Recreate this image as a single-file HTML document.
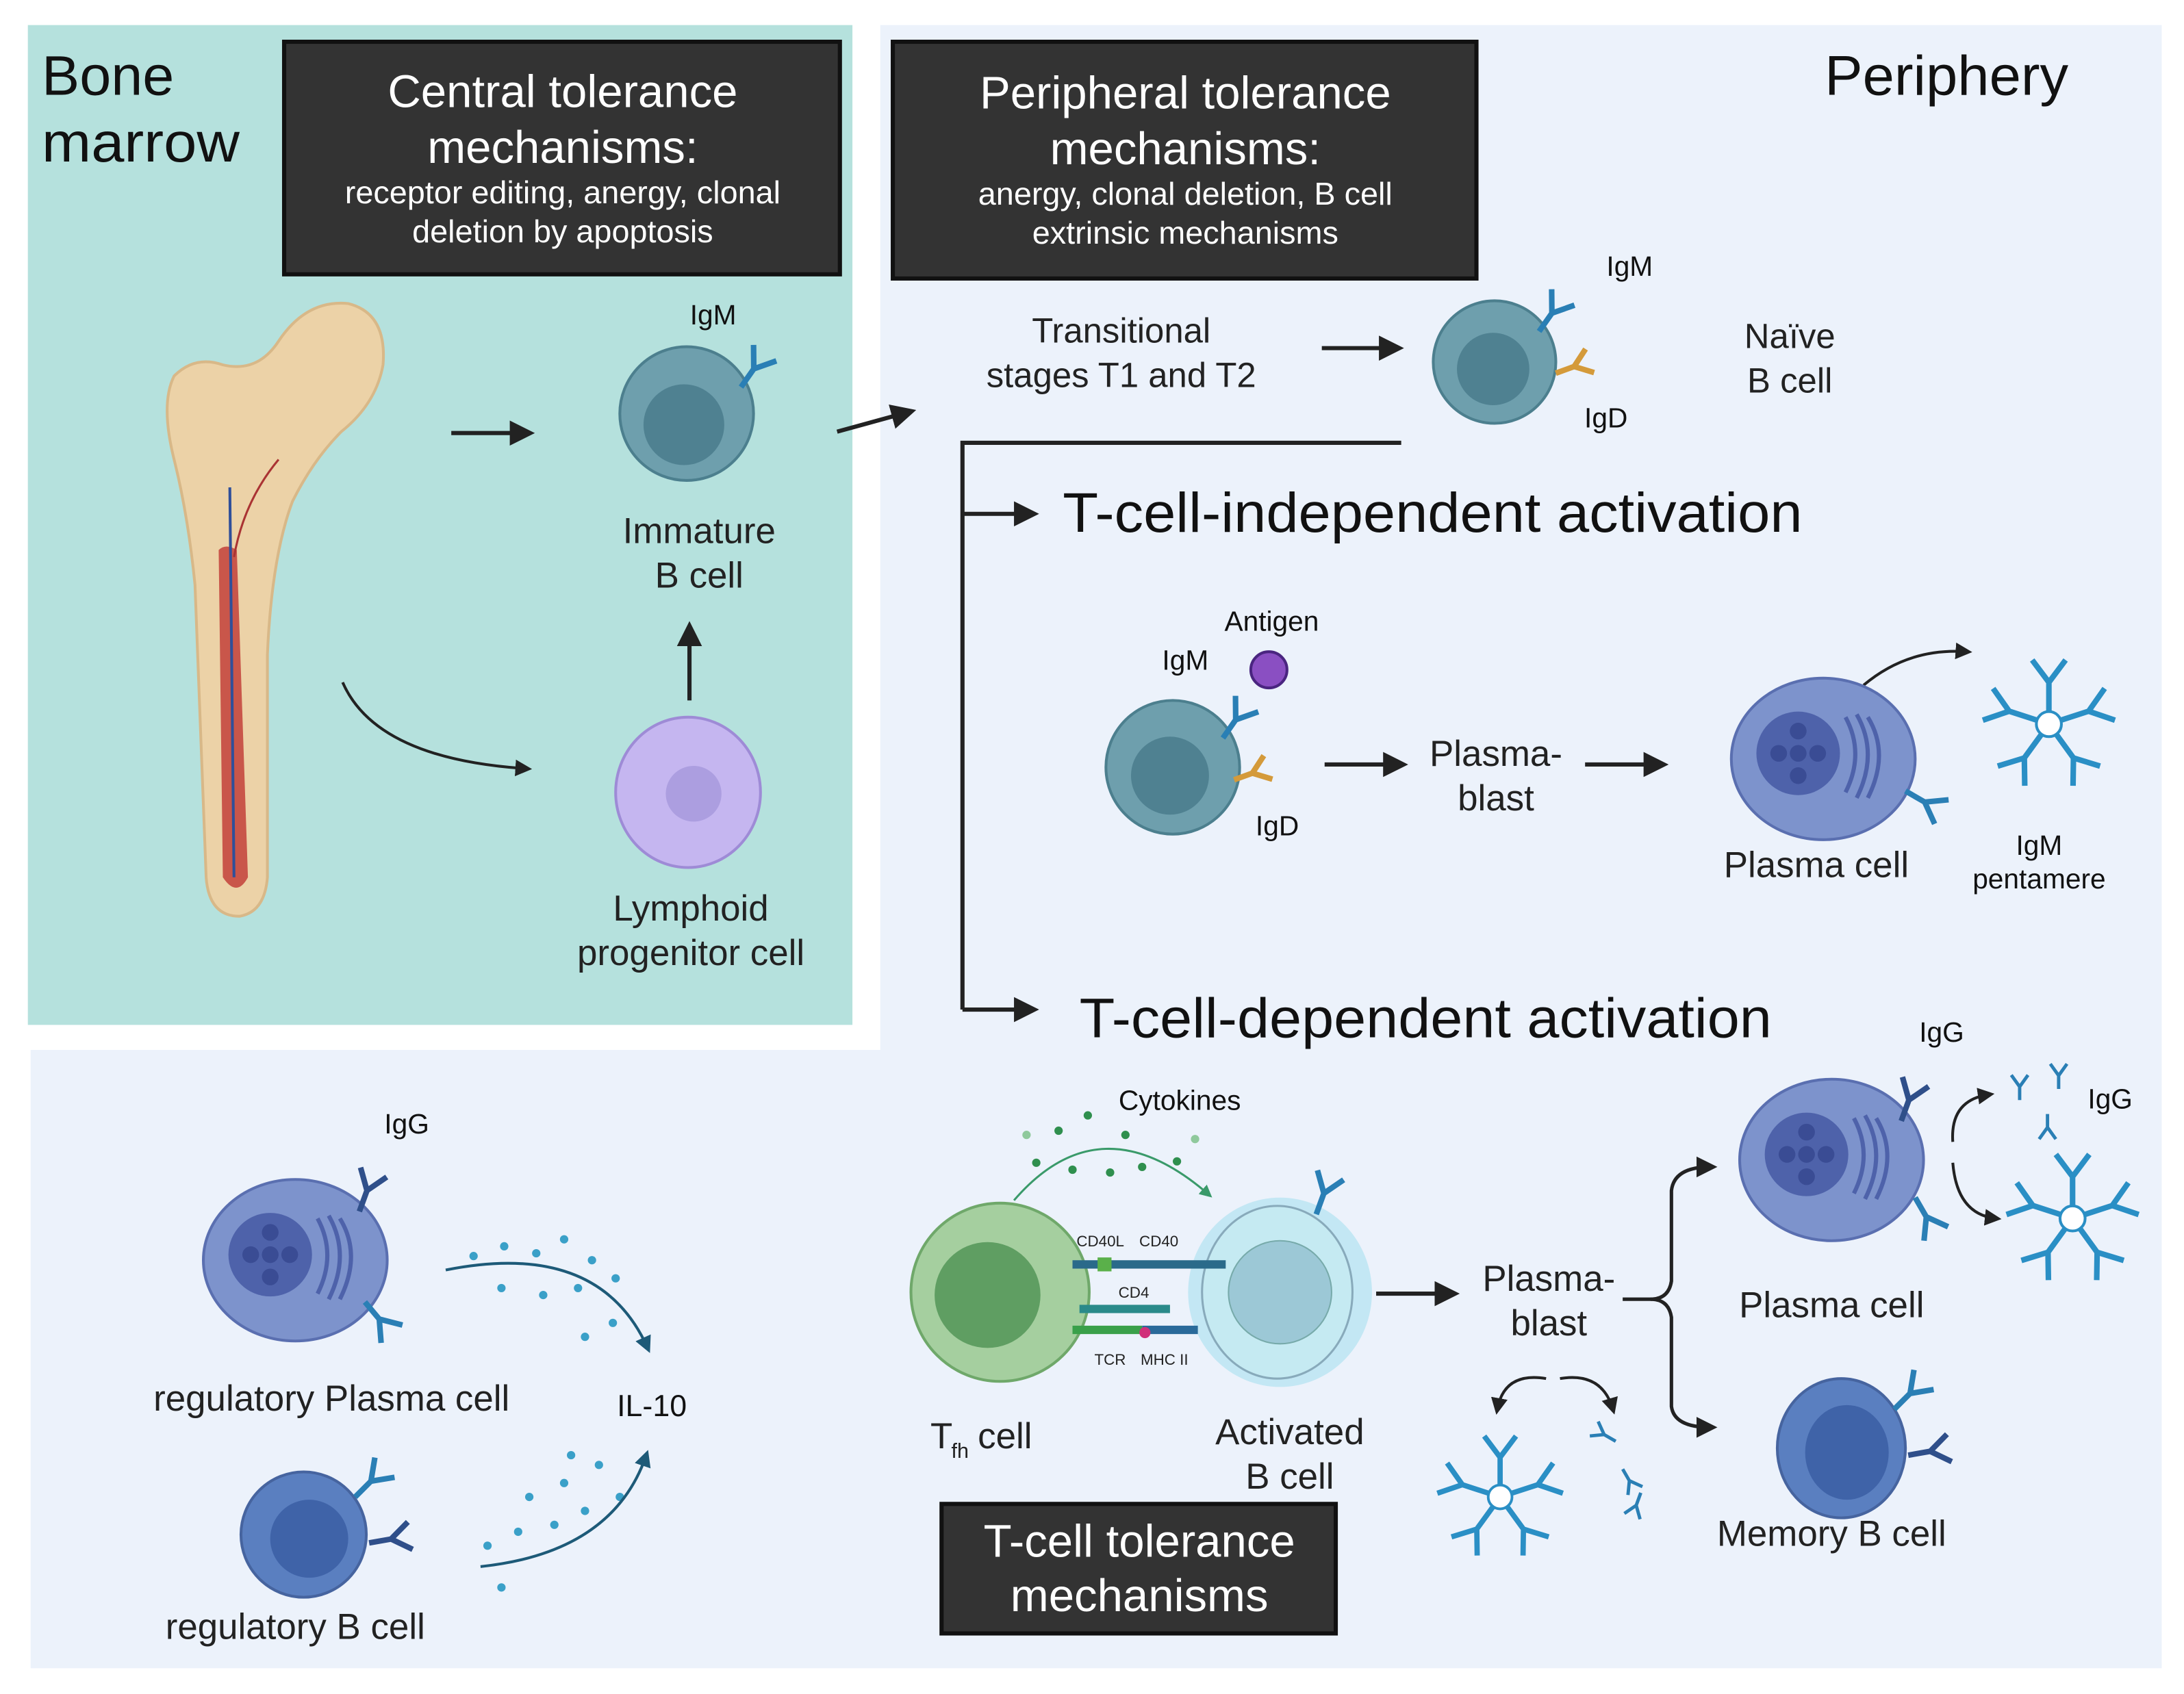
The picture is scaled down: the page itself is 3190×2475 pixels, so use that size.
<!DOCTYPE html>
<html><head><meta charset="utf-8"><style>
html,body{margin:0;padding:0;background:#fff}
svg{display:block}
text{font-family:"Liberation Sans",sans-serif}
</style></head><body>
<svg width="3190" height="2475" viewBox="0 0 1568 1216.5" preserveAspectRatio="none" xmlns="http://www.w3.org/2000/svg">
<defs>
<marker id="ah" markerWidth="6" markerHeight="6" refX="4" refY="3" orient="auto" markerUnits="strokeWidth"><path d="M0,0 L6,3 L0,6 z" fill="#222"/></marker>
<marker id="ahb" markerWidth="6" markerHeight="6" refX="4" refY="3" orient="auto" markerUnits="strokeWidth"><path d="M0,0 L6,3 L0,6 z" fill="#1d5a78"/></marker>
<marker id="ahg" markerWidth="6" markerHeight="6" refX="4" refY="3" orient="auto" markerUnits="strokeWidth"><path d="M0,0 L6,3 L0,6 z" fill="#3a9a6a"/></marker>
<g id="ab"><path d="M0,0 L0,-16 L-10,-30 M0,-16 L10,-30" stroke="#2a7fb5" stroke-width="4" fill="none"/></g>
<g id="abd"><path d="M0,0 L0,-16 L-10,-30 M0,-16 L10,-30" stroke="#2f4f8a" stroke-width="4" fill="none"/></g>
<g id="abg"><path d="M0,0 L0,-14 L-9,-26 M0,-14 L9,-26" stroke="#d49a3a" stroke-width="4" fill="none"/></g>
<g id="pent">
<circle r="9" fill="#fff" stroke="#2a8fc5" stroke-width="2"/>
<g stroke="#2a8fc5" stroke-width="4" fill="none">
<path d="M0,-9 L0,-30 L-12,-46 M0,-30 L12,-46"/>
<path d="M0,-9 L0,-30 L-12,-46 M0,-30 L12,-46" transform="rotate(72)"/>
<path d="M0,-9 L0,-30 L-12,-46 M0,-30 L12,-46" transform="rotate(144)"/>
<path d="M0,-9 L0,-30 L-12,-46 M0,-30 L12,-46" transform="rotate(216)"/>
<path d="M0,-9 L0,-30 L-12,-46 M0,-30 L12,-46" transform="rotate(288)"/>
</g></g>
<g id="plasma">
<ellipse cx="0" cy="0" rx="66" ry="58" fill="#7d93cc" stroke="#5a6fb0" stroke-width="2"/>
<circle cx="-18" cy="-4" r="30" fill="#4e62aa"/>
<g fill="#3a4c94"><circle cx="-18" cy="-4" r="6"/><circle cx="-18" cy="-20" r="6"/><circle cx="-18" cy="12" r="6"/><circle cx="-32" cy="-4" r="6"/><circle cx="-4" cy="-4" r="6"/></g>
<path d="M16,-30 Q30,-4 16,24 M24,-32 Q40,-4 24,28 M32,-30 Q48,-4 32,28" stroke="#4e62aa" stroke-width="3" fill="none"/>
</g>
</defs>

<rect x="0" y="0" width="1568" height="1217" fill="#fff"/>
<path d="M632,18 L1552,18 L1552,1198 L22,1198 L22,754 L632,754 Z" fill="#ecf2fb"/>
<rect x="20" y="18" width="592" height="718" fill="#b5e1dd"/>

<rect x="204" y="30" width="399" height="167" fill="#333" stroke="#111" stroke-width="3"/>
<text x="404" y="77" font-size="33" fill="#fff" text-anchor="middle">Central tolerance</text>
<text x="404" y="117" font-size="33" fill="#fff" text-anchor="middle">mechanisms:</text>
<text x="404" y="146" font-size="23" fill="#fff" text-anchor="middle">receptor editing, anergy, clonal</text>
<text x="404" y="174" font-size="23" fill="#fff" text-anchor="middle">deletion by apoptosis</text>

<rect x="641" y="30" width="419" height="170" fill="#333" stroke="#111" stroke-width="3"/>
<text x="851" y="78" font-size="33" fill="#fff" text-anchor="middle">Peripheral tolerance</text>
<text x="851" y="118" font-size="33" fill="#fff" text-anchor="middle">mechanisms:</text>
<text x="851" y="147" font-size="23" fill="#fff" text-anchor="middle">anergy, clonal deletion, B cell</text>
<text x="851" y="175" font-size="23" fill="#fff" text-anchor="middle">extrinsic mechanisms</text>

<rect x="676" y="1080" width="283" height="93" fill="#333" stroke="#111" stroke-width="3"/>
<text x="818" y="1118" font-size="33" fill="#fff" text-anchor="middle">T-cell tolerance</text>
<text x="818" y="1157" font-size="33" fill="#fff" text-anchor="middle">mechanisms</text>

<text x="30" y="68" font-size="40" fill="#111" textLength="95" lengthAdjust="spacingAndGlyphs">Bone</text>
<text x="30" y="116" font-size="40" fill="#111" textLength="142" lengthAdjust="spacingAndGlyphs">marrow</text>
<text x="1310" y="68" font-size="40" fill="#111" textLength="175" lengthAdjust="spacingAndGlyphs">Periphery</text>

<path d="M125,270 Q140,255 160,262 Q185,268 200,245 Q220,215 250,218 Q278,225 275,262 Q270,290 245,310 Q225,330 210,360 Q195,400 192,470 L192,630 Q190,655 172,658 Q150,658 148,630 L140,420 Q135,370 125,330 Q115,290 125,270 Z" fill="#ecd2a7" stroke="#d8b888" stroke-width="2"/>
<path d="M157,395 Q162,390 170,395 L178,630 Q170,645 160,630 Z" fill="#c9564a"/>
<path d="M165,350 L168,630" stroke="#2f4f9a" stroke-width="2" fill="none"/>
<path d="M168,400 Q175,360 200,330" stroke="#a33" stroke-width="1.5" fill="none"/>

<circle cx="493" cy="297" r="48" fill="#6e9fad" stroke="#4c7f8e" stroke-width="2"/>
<circle cx="491" cy="305" r="29" fill="#4f8191"/>
<use href="#ab" transform="translate(532,278) rotate(35)"/>
<text x="512" y="233" font-size="20" fill="#111" text-anchor="middle">IgM</text>
<text x="502" y="390" font-size="26" fill="#222" text-anchor="middle">Immature</text>
<text x="502" y="422" font-size="26" fill="#222" text-anchor="middle">B cell</text>

<ellipse cx="494" cy="569" rx="52" ry="54" fill="#c5b6f0" stroke="#9e8bd6" stroke-width="2"/>
<circle cx="498" cy="570" r="20" fill="#ac9ee0"/>
<text x="496" y="661" font-size="26" fill="#222" text-anchor="middle">Lymphoid</text>
<text x="496" y="693" font-size="26" fill="#222" text-anchor="middle">progenitor cell</text>

<g stroke="#222" stroke-width="3" fill="none">
<path d="M324,311 L378,311" marker-end="url(#ah)"/>
<path d="M495,503 L495,452" marker-end="url(#ah)"/>
<path d="M246,490 Q270,545 378,552" marker-end="url(#ah)" stroke-width="2"/>
<path d="M601,310 L652,296" marker-end="url(#ah)"/>
<path d="M949,250 L1002,250" marker-end="url(#ah)"/>
<path d="M1006,318 L691,318 L691,725"/>
<path d="M691,369 L740,369" marker-end="url(#ah)"/>
<path d="M691,725 L740,725" marker-end="url(#ah)"/>
<path d="M951,549 L1005,549" marker-end="url(#ah)"/>
<path d="M1138,549 L1192,549" marker-end="url(#ah)"/>
<path d="M1338,492 Q1370,465 1412,468" marker-end="url(#ah)" stroke-width="2"/>
<path d="M988,929 L1042,929" marker-end="url(#ah)"/>
<path d="M1165,933 L1185,933 Q1198,933 1200,920 L1200,855 Q1202,838 1228,838" marker-end="url(#ah)" stroke-width="2.5"/>
<path d="M1185,933 Q1198,933 1200,946 L1200,1010 Q1202,1025 1228,1025" marker-end="url(#ah)" stroke-width="2.5"/>
<path d="M1402,820 Q1400,790 1428,786" marker-end="url(#ah)" stroke-width="2"/>
<path d="M1402,835 Q1405,872 1433,875" marker-end="url(#ah)" stroke-width="2"/>
<path d="M1110,990 Q1080,985 1075,1012" marker-end="url(#ah)" stroke-width="2"/>
<path d="M1120,990 Q1150,985 1158,1012" marker-end="url(#ah)" stroke-width="2"/>
</g>

<text x="805" y="246" font-size="25" fill="#222" text-anchor="middle">Transitional</text>
<text x="805" y="278" font-size="25" fill="#222" text-anchor="middle">stages T1 and T2</text>

<circle cx="1073" cy="260" r="44" fill="#6e9fad" stroke="#4c7f8e" stroke-width="2"/>
<circle cx="1072" cy="265" r="26" fill="#4f8191"/>
<use href="#ab" transform="translate(1105,238) rotate(35)"/>
<use href="#abg" transform="translate(1117,268) rotate(70)"/>
<text x="1170" y="198" font-size="20" fill="#111" text-anchor="middle">IgM</text>
<text x="1153" y="307" font-size="20" fill="#111" text-anchor="middle">IgD</text>
<text x="1285" y="250" font-size="25" fill="#222" text-anchor="middle">Naïve</text>
<text x="1285" y="282" font-size="25" fill="#222" text-anchor="middle">B cell</text>

<text x="763" y="382" font-size="40" fill="#111" textLength="531" lengthAdjust="spacingAndGlyphs">T-cell-independent activation</text>
<text x="775" y="745" font-size="40" fill="#111" textLength="497" lengthAdjust="spacingAndGlyphs">T-cell-dependent activation</text>

<circle cx="842" cy="551" r="48" fill="#6e9fad" stroke="#4c7f8e" stroke-width="2"/>
<circle cx="840" cy="557" r="28" fill="#4f8191"/>
<use href="#ab" transform="translate(878,530) rotate(35)"/>
<use href="#abg" transform="translate(886,560) rotate(70)"/>
<circle cx="911" cy="481" r="13" fill="#8a4fc2" stroke="#4a2580" stroke-width="2"/>
<text x="913" y="453" font-size="20" fill="#111" text-anchor="middle">Antigen</text>
<text x="851" y="481" font-size="20" fill="#111" text-anchor="middle">IgM</text>
<text x="917" y="600" font-size="20" fill="#111" text-anchor="middle">IgD</text>
<text x="1074" y="550" font-size="26" fill="#222" text-anchor="middle">Plasma-</text>
<text x="1074" y="582" font-size="26" fill="#222" text-anchor="middle">blast</text>
<use href="#plasma" transform="translate(1309,545)"/>
<use href="#ab" transform="translate(1368,568) rotate(120)"/>
<text x="1304" y="630" font-size="26" fill="#222" text-anchor="middle">Plasma cell</text>
<use href="#pent" transform="translate(1471,520)"/>
<text x="1464" y="614" font-size="20" fill="#111" text-anchor="middle">IgM</text>
<text x="1464" y="638" font-size="20" fill="#111" text-anchor="middle">pentamere</text>

<g fill="#2f8f4e"><circle cx="781" cy="801" r="3"/><circle cx="760" cy="812" r="3"/><circle cx="808" cy="815" r="3"/><circle cx="744" cy="835" r="3"/><circle cx="770" cy="840" r="3"/><circle cx="797" cy="842" r="3"/><circle cx="820" cy="838" r="3"/><circle cx="845" cy="834" r="3"/><circle cx="858" cy="818" r="3" fill="#8fc99c"/><circle cx="737" cy="815" r="3" fill="#8fc99c"/></g>
<path d="M728,862 Q790,790 868,858" stroke="#3a9a6a" stroke-width="1.5" fill="none" marker-end="url(#ahg)"/>
<text x="847" y="797" font-size="20" fill="#111" text-anchor="middle">Cytokines</text>
<ellipse cx="919" cy="928" rx="66" ry="68" fill="#a8dff0" opacity="0.6"/>
<ellipse cx="917" cy="928" rx="54" ry="62" fill="#c5eaf2" stroke="#8ab" stroke-width="1.5"/>
<circle cx="919" cy="928" r="37" fill="#9cc8d6" stroke="#7aa" stroke-width="1"/>
<use href="#ab" transform="translate(945,872) rotate(20)"/>
<ellipse cx="718" cy="928" rx="64" ry="64" fill="#a5cf9f" stroke="#6fa86a" stroke-width="2"/>
<circle cx="709" cy="930" r="38" fill="#5f9e62"/>
<g stroke="#2a6a8a" stroke-width="6"><path d="M770,908 L880,908"/></g>
<rect x="788" y="903" width="10" height="10" fill="#5ab04a"/>
<g stroke="#2a8a8a" stroke-width="6"><path d="M775,940 L840,940"/></g>
<g stroke="#3aa04a" stroke-width="6"><path d="M770,955 L820,955"/></g>
<g stroke="#2a6a9a" stroke-width="6"><path d="M820,955 L860,955"/></g>
<circle cx="822" cy="957" r="4" fill="#d0307a"/>
<text x="790" y="895" font-size="11" fill="#222" text-anchor="middle">CD40L</text>
<text x="832" y="895" font-size="11" fill="#222" text-anchor="middle">CD40</text>
<text x="814" y="932" font-size="11" fill="#222" text-anchor="middle">CD4</text>
<text x="797" y="980" font-size="11" fill="#222" text-anchor="middle">TCR</text>
<text x="836" y="980" font-size="11" fill="#222" text-anchor="middle">MHC II</text>
<text x="668" y="1040" font-size="26" fill="#222">T</text>
<text x="683" y="1047" font-size="15" fill="#222">fh</text>
<text x="702" y="1040" font-size="26" fill="#222">cell</text>
<text x="926" y="1037" font-size="26" fill="#222" text-anchor="middle">Activated</text>
<text x="926" y="1069" font-size="26" fill="#222" text-anchor="middle">B cell</text>
<text x="1112" y="927" font-size="26" fill="#222" text-anchor="middle">Plasma-</text>
<text x="1112" y="959" font-size="26" fill="#222" text-anchor="middle">blast</text>
<use href="#pent" transform="translate(1077,1075) scale(0.95)"/>
<use href="#ab" transform="translate(1165,1055) rotate(150) scale(0.6)"/>
<use href="#ab" transform="translate(1160,1035) rotate(-60) scale(0.6)"/>
<use href="#ab" transform="translate(1178,1072) rotate(200) scale(0.6)"/>

<use href="#plasma" transform="translate(1315,833)"/>
<use href="#abd" transform="translate(1365,805) rotate(20)"/>
<use href="#ab" transform="translate(1375,860) rotate(150)"/>
<text x="1394" y="748" font-size="20" fill="#111" text-anchor="middle">IgG</text>
<text x="1315" y="946" font-size="26" fill="#222" text-anchor="middle">Plasma cell</text>
<use href="#ab" transform="translate(1450,790) scale(0.6)"/>
<use href="#ab" transform="translate(1470,800) rotate(180) scale(0.6)"/>
<use href="#ab" transform="translate(1478,782) scale(0.6)"/>
<text x="1515" y="796" font-size="20" fill="#111" text-anchor="middle">IgG</text>
<use href="#pent" transform="translate(1488,875)"/>

<ellipse cx="1322" cy="1040" rx="46" ry="50" fill="#5a7fc0" stroke="#46649f" stroke-width="2"/>
<ellipse cx="1326" cy="1043" rx="30" ry="34" fill="#3f63a8"/>
<use href="#ab" transform="translate(1360,1012) rotate(45)"/>
<use href="#abd" transform="translate(1370,1045) rotate(80)"/>
<text x="1315" y="1110" font-size="26" fill="#222" text-anchor="middle">Memory B cell</text>

<use href="#plasma" transform="translate(212,905)"/>
<use href="#abd" transform="translate(258,870) rotate(20)"/>
<use href="#ab" transform="translate(262,935) rotate(140)"/>
<text x="292" y="814" font-size="20" fill="#111" text-anchor="middle">IgG</text>
<text x="238" y="1013" font-size="26" fill="#222" text-anchor="middle">regulatory Plasma cell</text>
<g fill="#3aa0c8">
<circle cx="340" cy="902" r="3"/><circle cx="362" cy="895" r="3"/><circle cx="385" cy="900" r="3"/><circle cx="405" cy="890" r="3"/><circle cx="425" cy="905" r="3"/><circle cx="360" cy="925" r="3"/><circle cx="390" cy="930" r="3"/><circle cx="415" cy="925" r="3"/><circle cx="442" cy="918" r="3"/><circle cx="440" cy="950" r="3"/><circle cx="420" cy="960" r="3"/>
<circle cx="350" cy="1110" r="3"/><circle cx="372" cy="1100" r="3"/><circle cx="398" cy="1095" r="3"/><circle cx="420" cy="1085" r="3"/><circle cx="445" cy="1075" r="3"/><circle cx="380" cy="1075" r="3"/><circle cx="405" cy="1065" r="3"/><circle cx="430" cy="1052" r="3"/><circle cx="410" cy="1045" r="3"/><circle cx="360" cy="1140" r="3"/>
</g>
<path d="M320,912 Q430,890 465,968" stroke="#1d5a78" stroke-width="2" fill="none" marker-end="url(#ahb)"/>
<path d="M345,1125 Q440,1115 464,1045" stroke="#1d5a78" stroke-width="2" fill="none" marker-end="url(#ahb)"/>
<text x="468" y="1017" font-size="22" fill="#111" text-anchor="middle">IL-10</text>
<circle cx="218" cy="1102" r="45" fill="#5a7fc0" stroke="#46649f" stroke-width="2"/>
<circle cx="222" cy="1105" r="28" fill="#3f63a8"/>
<use href="#ab" transform="translate(255,1075) rotate(45)"/>
<use href="#abd" transform="translate(265,1108) rotate(80)"/>
<text x="212" y="1177" font-size="26" fill="#222" text-anchor="middle">regulatory B cell</text>
</svg>
</body></html>
